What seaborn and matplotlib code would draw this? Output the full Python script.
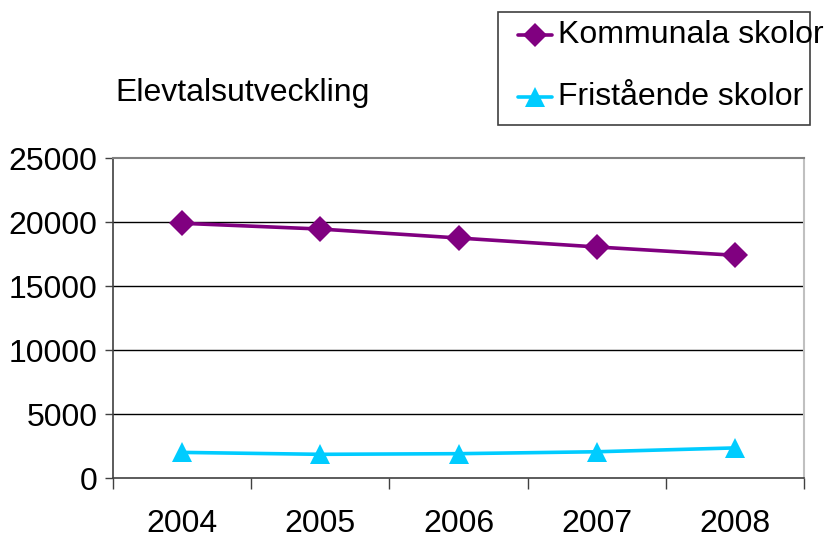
import matplotlib
matplotlib.use("Agg")
import matplotlib.pyplot as plt
import matplotlib.patches as mpatches
import pandas as pd
import seaborn as sns

years = ["2004", "2005", "2006", "2007", "2008"]
kommunala = [19900, 19450, 18750, 18050, 17400]
fristaende = [2000, 1850, 1900, 2050, 2350]
series_names = ["Kommunala skolor", "Fristående skolor"]
series_colors = ["#800080", "#00CCFF"]
series_markers = ["D", "^"]
y_ticks = [0, 5000, 10000, 15000, 20000, 25000]

sns.set_theme(style="white")
plt.rcParams["font.family"] = ["Liberation Sans", "DejaVu Sans"]
plt.rcParams["text.color"] = "black"
plt.rcParams["xtick.labelcolor"] = "black"
plt.rcParams["ytick.labelcolor"] = "black"

df = pd.DataFrame({
    "year": years * 2,
    "value": kommunala + fristaende,
    "series": [series_names[0]] * len(years) + [series_names[1]] * len(years),
})

fig = plt.figure(figsize=(8.26, 5.37), dpi=100)
ax = fig.add_axes([113 / 826, 59 / 537, 691 / 826, 320 / 537])

sns.lineplot(
    data=df, x="year", y="value", hue="series", style="series",
    palette=dict(zip(series_names, series_colors)),
    markers=dict(zip(series_names, series_markers)),
    dashes=False, linewidth=2.6, markeredgewidth=0,
    ax=ax, legend=False,
)
# diamonds and triangles of a slightly different size, like the original
for line, size in zip(ax.lines, [13, 15]):
    line.set_markersize(size)

# horizontal gridlines
for v in y_ticks[1:-1]:
    ax.axhline(v, color="black", linewidth=1, zorder=0)

ax.set_xlim(-0.5, len(years) - 0.5)
ax.set_ylim(0, 25000)
ax.set_yticks(y_ticks)
ax.set_yticklabels([str(v) for v in y_ticks], fontsize=23, color="black")

# category boundaries as major ticks, labels on minor ticks
ax.set_xticks([i - 0.5 for i in range(len(years) + 1)])
ax.set_xticklabels([])
ax.set_xticks(range(len(years)), minor=True)
ax.set_xticklabels(years, minor=True, fontsize=23, color="black")
ax.tick_params(axis="x", which="major", direction="out", length=8, width=1,
               color="#404040", bottom=True)
ax.tick_params(axis="x", which="minor", length=0, pad=22)
ax.tick_params(axis="y", direction="out", length=6, width=1, color="#404040",
               left=True, pad=5)

ax.set_xlabel("")
ax.set_ylabel("")

for side in ["left", "bottom"]:
    ax.spines[side].set_color("#404040")
    ax.spines[side].set_linewidth(1.2)
ax.spines["top"].set_color("#808080")
ax.spines["top"].set_linewidth(1.5)
ax.spines["right"].set_color("#C0C0C0")
ax.spines["right"].set_linewidth(1.5)

fig.text(115 / 826, 1 - 93 / 537, "Elevtalsutveckling", fontsize=23,
         va="center", ha="left", color="black")

# legend box drawn by hand so the text can run past the frame like the original
fig.patches.append(mpatches.Rectangle(
    (498 / 826, 1 - 125 / 537), 312 / 826, 113 / 537,
    transform=fig.transFigure, fill=False, edgecolor="#404040", linewidth=1.2,
))
for i, (name, color, marker) in enumerate(zip(series_names, series_colors, series_markers)):
    yy = 1 - (35 + 62 * i) / 537
    fig.add_artist(plt.Line2D([518 / 826, 552 / 826], [yy, yy], color=color,
                              linewidth=2.6, transform=fig.transFigure))
    fig.add_artist(plt.Line2D([535 / 826], [yy], color=color, marker=marker,
                              markersize=12 if marker == "D" else 14,
                              markeredgewidth=0, transform=fig.transFigure))
    fig.text(558 / 826, yy, name, fontsize=23, va="center", ha="left",
             color="black")

fig.savefig("out.png", dpi=100)
plt.close(fig)
